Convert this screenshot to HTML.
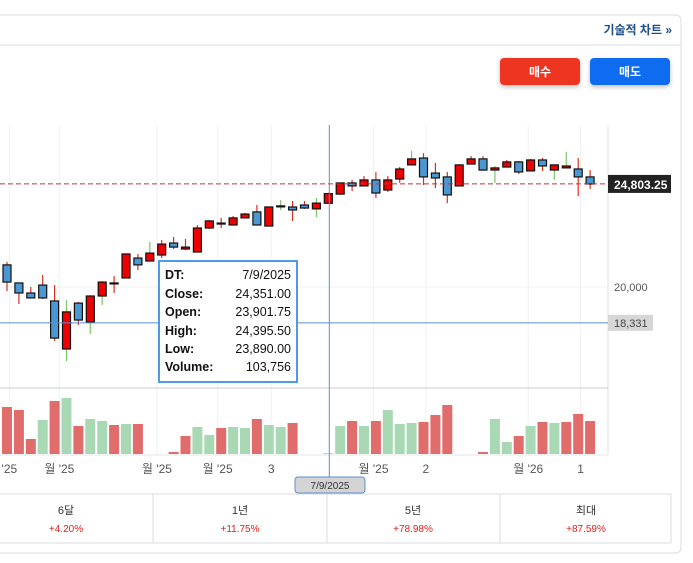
<!DOCTYPE html>
<html><head><meta charset="utf-8">
<style>
body{margin:0;background:#fff;width:693px;height:563px;overflow:hidden;font-family:"Liberation Sans","Noto Sans CJK KR",sans-serif;}
svg{display:block}
text{font-family:"Liberation Sans","Noto Sans CJK KR",sans-serif;}
</style></head>
<body>
<svg id="chart" width="693" height="563" viewBox="0 0 693 563">
  <rect x="-10" y="15" width="691" height="538" rx="5" fill="#fff" stroke="#d9dde2"/>
  <line x1="-10" y1="45" x2="681" y2="45" stroke="#d9dde2"/>
  <text x="672" y="34" text-anchor="end" font-size="12" font-weight="bold" fill="#1f4e86">기술적 차트 »</text>
  <defs>
    <filter id="sh" x="-20%" y="-30%" width="140%" height="180%"><feDropShadow dx="0" dy="2" stdDeviation="2.5" flood-opacity="0.25"/></filter>
  </defs>
  <g>
    <rect x="500" y="58" width="80" height="27" rx="4" fill="#ee3524" filter="url(#sh)"/>
    <text x="540" y="76" text-anchor="middle" font-size="12" font-weight="bold" fill="#fff">매수</text>
  </g>
  <g>
    <rect x="590" y="58" width="80" height="27" rx="4" fill="#0a6cf0" filter="url(#sh)"/>
    <text x="630" y="76" text-anchor="middle" font-size="12" font-weight="bold" fill="#fff">매도</text>
  </g>
  <g id="grid"></g>
  <line x1="608" y1="125" x2="608" y2="455" stroke="#dde1e6"/>
  <line x1="0" y1="388" x2="608" y2="388" stroke="#c8ccd0"/>
  <line x1="0" y1="455" x2="608" y2="455" stroke="#e4e7ea"/>
  <g id="vol"></g>
  <g id="candles"></g>
  <g id="overlay"></g>
  <g id="xlabels"></g>
  <g>
    <rect x="159" y="261" width="138" height="121" fill="#fff" stroke="#4d9be6" stroke-width="2"/>
    <g font-size="12.5" fill="#111">
      <text x="165" y="279" font-weight="bold">DT:</text><text x="291" y="279" text-anchor="end">7/9/2025</text>
      <text x="165" y="298" font-weight="bold">Close:</text><text x="291" y="298" text-anchor="end">24,351.00</text>
      <text x="165" y="316" font-weight="bold">Open:</text><text x="291" y="316" text-anchor="end">23,901.75</text>
      <text x="165" y="335" font-weight="bold">High:</text><text x="291" y="335" text-anchor="end">24,395.50</text>
      <text x="165" y="353" font-weight="bold">Low:</text><text x="291" y="353" text-anchor="end">23,890.00</text>
      <text x="165" y="371" font-weight="bold">Volume:</text><text x="291" y="371" text-anchor="end">103,756</text>
    </g>
  </g>
  <g>
    <rect x="295" y="477" width="70" height="16" rx="3" fill="#d4d4d4" stroke="#5b8fd0"/>
    <text x="330" y="489" text-anchor="middle" font-size="10" fill="#333">7/9/2025</text>
  </g>
  <g>
    <rect x="-10" y="494" width="681" height="49" fill="none" stroke="#d9dde2"/>
    <line x1="153" y1="494" x2="153" y2="543" stroke="#d9dde2"/>
    <line x1="327" y1="494" x2="327" y2="543" stroke="#d9dde2"/>
    <line x1="500" y1="494" x2="500" y2="543" stroke="#d9dde2"/>
  </g>
  <g id="periods"></g>
</svg>
<script>
const NS="http://www.w3.org/2000/svg";
const opens=[21030,20190,19720,20090,19350,17110,19250,18370,19580,20170,20420,21350,21210,21490,22050,21770,21630,22750,22960,22890,23220,23500,22840,23760,23730,23820,23640,23902,24330,24850,24710,24990,24520,25030,25690,26010,25310,25130,24710,25730,25970,25450,25590,25830,25410,25920,25450,25550,25500,25130];
const highs=[21170,20190,20000,20560,20090,19390,19300,19630,20280,20510,21540,21540,22100,22190,22330,22240,22890,23120,23220,23310,23450,23820,23730,24050,24010,24010,24150,24396,24850,24990,25170,25360,25170,25590,26340,26240,25780,25360,25730,26100,26100,25640,25920,25870,25970,26010,25690,26290,26010,25450];
const lows=[19810,19210,19490,19440,17480,16550,18230,17810,19160,19720,20420,20790,21210,21350,21770,21720,21630,22700,22750,22890,23220,22890,22840,23590,23080,23640,23260,23890,24290,24470,24710,24150,24430,24850,25690,24750,24610,23910,24710,25730,25410,24850,25590,25270,25410,25410,24990,25550,24240,24570];
const closes=[20230,19720,19490,19490,17620,18840,18460,19580,20230,20190,21540,21030,21580,22000,21860,21860,22750,23080,22980,23220,23400,22890,23730,23780,23590,23680,23910,24351,24850,24710,24990,24380,24990,25500,25970,25130,25080,24290,25690,25970,25450,25550,25830,25360,25920,25640,25690,25640,25130,24800];
const greenWick=[5,7,8,12,23,26,34,38,41,46,47];
const volumes=[94000,88000,30000,68000,106000,112000,56000,70000,66000,58000,60000,60000,0,0,4000,36000,54000,38000,52000,54000,52000,70000,58000,54000,62000,0,0,2000,56000,66000,56000,66000,88000,60000,62000,64000,78000,98000,0,0,4000,70000,24000,36000,56000,64000,62000,64000,80000,66000];
const volColors=["r","r","r","g","r","g","r","g","g","r","g","r","-","-","r","r","g","g","r","g","g","r","g","g","r","-","-","n","g","r","g","r","g","g","g","r","r","r","-","-","r","g","g","r","g","r","g","r","r","r"];
const xTickIdx=[0.2,4.4,12.6,17.7,22.2,30.8,35.2,43.8,48.2];
const xTickLabels=["'25","월 '25","월 '25","월 '25","3","월 '25","2","월 '26","1"];
const yTicks=[20000];
const lastPrice=24803.25, refPrice=18331, crossIdx=27;
const periods=["6달","1년","5년","최대"];
const periodReturns=["+4.20%","+11.75%","+78.98%","+87.59%"];

const xs=i=>7+i*11.9;
const yp=p=>287-(p-20000)/46.6;
const yv=v=>454-v/2000;
function mk(tag,attrs,parent){const e=document.createElementNS(NS,tag);for(const k in attrs)e.setAttribute(k,attrs[k]);parent.appendChild(e);return e;}

const grid=document.getElementById('grid');
xTickIdx.forEach(t=>{const l=mk('line',{x1:xs(t),x2:xs(t),y1:125,y2:455,stroke:'#f0f1f3'},grid);

});
yTicks.forEach(t=>{const l=mk('line',{x1:0,x2:608,y1:yp(t),y2:yp(t),stroke:'#f0f1f3'},grid);


const tx=mk('text',{x:614,y:yp(t)+4,'font-size':11,fill:'#555'},grid);tx.textContent=t.toLocaleString('en-US');

});

const vg=document.getElementById('vol');
volumes.forEach((v,i)=>{if(volColors[i]==='-')return;
const c=volColors[i]==='r'?'#e06c6c':volColors[i]==='g'?'#a9d9b4':'#ccc';
const r=mk('rect',{x:xs(i)-5,y:yv(v),width:10,height:454-yv(v),fill:c},vg);

});

const cg=document.getElementById('candles');
opens.forEach((o,i)=>{const c=closes[i],up=c>=o,x=xs(i);
const wc=greenWick.includes(i)?'#7cc46a':'#d8301e';
const w=mk('line',{x1:x,x2:x,y1:yp(highs[i]),y2:yp(lows[i]),stroke:wc,'stroke-width':1.2},cg);


const top=yp(Math.max(o,c)),bot=yp(Math.min(o,c));
const b=mk('rect',{x:x-4,y:top,width:8,height:Math.max(bot-top,1),fill:up?'#ee0000':'#4a97d2',stroke:'#111','stroke-width':1.2},cg);

});

const ov=document.getElementById('overlay');
let e=mk('line',{x1:0,x2:608,y1:yp(lastPrice),y2:yp(lastPrice),stroke:'#c83232','stroke-dasharray':'5,3'},ov);


e=mk('rect',{x:608,y:yp(lastPrice)-9,width:63,height:18,fill:'#222'},ov);


e=mk('text',{x:614,y:yp(lastPrice)+5,'font-size':12,'font-weight':'bold',fill:'#fff'},ov);e.textContent=lastPrice.toLocaleString('en-US',{minimumFractionDigits:2});


e=mk('line',{x1:0,x2:608,y1:yp(refPrice),y2:yp(refPrice),stroke:'#5b8fd0'},ov);


e=mk('rect',{x:608,y:yp(refPrice)-8,width:45,height:16,fill:'#d6d6d6'},ov);


e=mk('text',{x:614,y:yp(refPrice)+4,'font-size':11,fill:'#444'},ov);e.textContent=refPrice.toLocaleString('en-US');


e=mk('line',{x1:xs(crossIdx)+1,x2:xs(crossIdx)+1,y1:125,y2:477,stroke:'#5b8fd0'},ov);



const xl=document.getElementById('xlabels');
xTickIdx.forEach((t,i)=>{const tx=mk('text',{x:xs(t),y:473,'font-size':12,fill:'#555','text-anchor':'middle'},xl);tx.textContent=xTickLabels[i];

});

const pg=document.getElementById('periods');
const cx=[66,240,413,586];
periods.forEach((p,i)=>{let t=mk('text',{x:cx[i],y:514,'font-size':11,fill:'#333','text-anchor':'middle'},pg);t.textContent=p;


t=mk('text',{x:cx[i],y:532,'font-size':10,fill:'#e0201c','text-anchor':'middle'},pg);t.textContent=periodReturns[i];

});
</script>
</body></html>
